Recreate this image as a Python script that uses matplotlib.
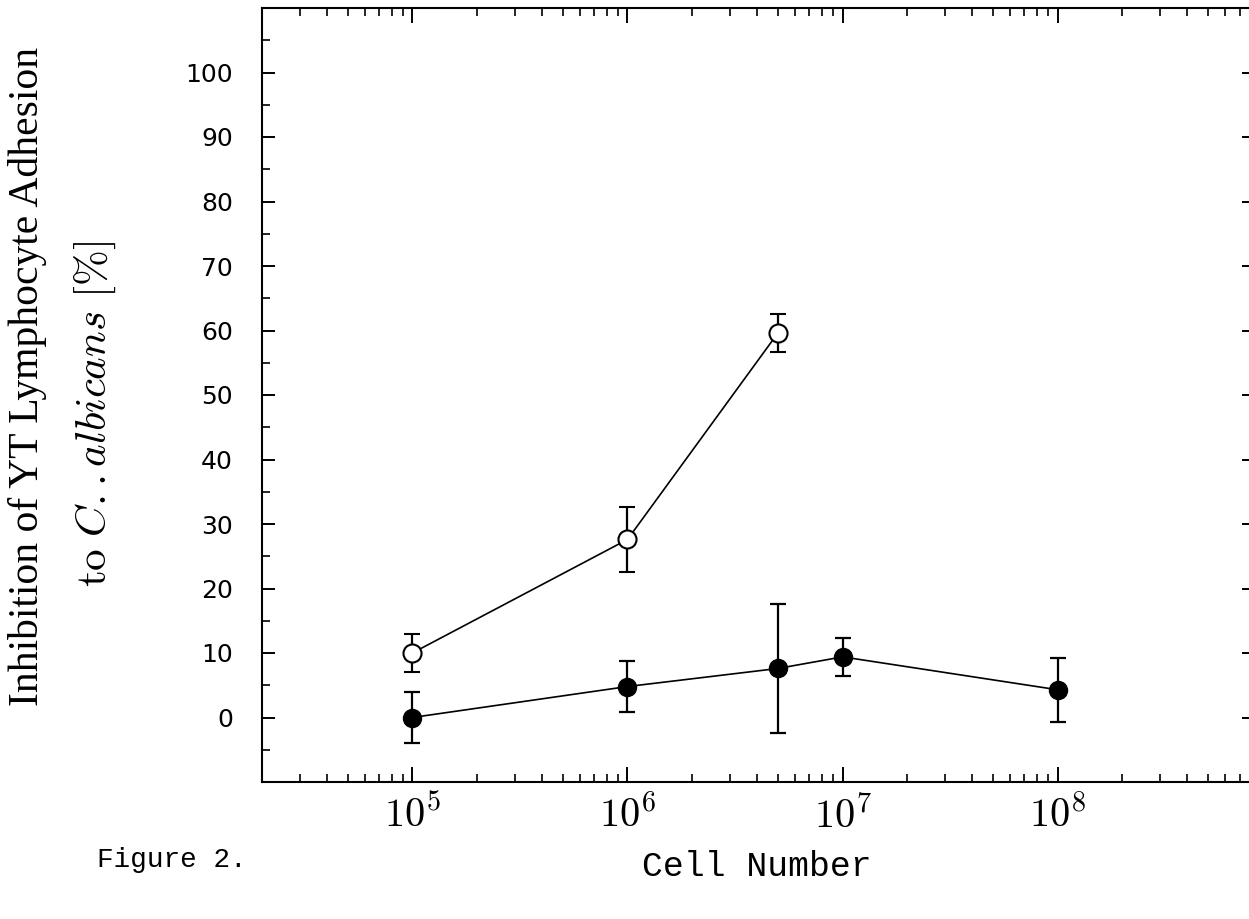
import math
import matplotlib
matplotlib.use("Agg")
import matplotlib.pyplot as plt
from matplotlib.ticker import FixedLocator, LogLocator, MultipleLocator, NullFormatter, FuncFormatter

plt.rcParams["mathtext.fontset"] = "cm"

# Cell numbers and inhibition (%) with error bars
open_x = [1e5, 1e6, 5e6]
open_y = [10.0, 27.6, 59.6]
open_err = [3.0, 5.0, 3.0]

filled_x = [1e5, 1e6, 5e6, 1e7, 1e8]
filled_y = [0.0, 4.8, 7.6, 9.4, 4.3]
filled_err = [4.0, 4.0, 10.0, 2.9, 5.0]

y_ticks = [0, 10, 20, 30, 40, 50, 60, 70, 80, 90, 100]
x_ticks = [1e5, 1e6, 1e7, 1e8]

fig = plt.figure(figsize=(12.49, 9.19), dpi=100)
ax = fig.add_axes([262 / 1249, 137 / 919, 990 / 1249, 774 / 919])

ax.errorbar(filled_x, filled_y, yerr=filled_err, fmt="-o", color="black",
            ecolor="black", elinewidth=1.6, capsize=6, capthick=1.6,
            lw=1.2, ms=13, mfc="black", mec="black", zorder=3)
ax.errorbar(open_x, open_y, yerr=open_err, fmt="-o", color="black",
            ecolor="black", elinewidth=1.6, capsize=6, capthick=1.6,
            lw=1.2, ms=13, mfc="white", mec="black", mew=1.5, zorder=4)

ax.set_xscale("log")
ax.set_xlim(2e4, 8e8)
ax.set_ylim(-10, 110)

for s in ax.spines.values():
    s.set_linewidth(1.5)

ax.xaxis.set_major_locator(FixedLocator(x_ticks))
ax.xaxis.set_minor_locator(LogLocator(base=10, subs=range(2, 10), numticks=20))
ax.xaxis.set_minor_formatter(NullFormatter())
ax.xaxis.set_major_formatter(FuncFormatter(lambda v, p: r"$10^{%d}$" % round(math.log10(v))))
ax.tick_params(axis="x", which="major", direction="in", length=11, width=1.4,
               top=True, bottom=True, labelsize=29, pad=10)
ax.tick_params(axis="x", which="minor", direction="in", length=5.5, width=1.2,
               top=True, bottom=True)

ax.yaxis.set_major_locator(FixedLocator(list(range(-10, 111, 10))))
ax.yaxis.set_minor_locator(MultipleLocator(5))
ax.yaxis.set_major_formatter(FuncFormatter(lambda v, p: "%d" % v if 0 <= v <= 100 else ""))
ax.tick_params(axis="y", which="major", direction="in", length=9.5, width=1.4,
               left=True, right=False, pad=21)
ax.tick_params(axis="y", which="minor", direction="in", length=5.5, width=1.2,
               left=True, right=False)
for lab in ax.get_yticklabels():
    lab.set_fontfamily("DejaVu Sans")
    lab.set_fontsize(18)

sec = ax.secondary_yaxis("right")
sec.yaxis.set_major_locator(FixedLocator(list(range(-10, 111, 10))))
sec.yaxis.set_minor_locator(MultipleLocator(5))
sec.tick_params(axis="y", which="major", direction="in", length=7.5, width=1.4, labelright=False)
sec.tick_params(axis="y", which="minor", direction="in", length=2, width=1.0)
sec.spines["right"].set_linewidth(1.5)

ax.set_xlabel("Cell Number", fontfamily="Liberation Mono", fontsize=25, labelpad=10)

fig.text(28 / 1249, 1 - 376 / 919, "Inhibition of YT Lymphocyte Adhesion",
         rotation=90, ha="center", va="center", fontfamily="Liberation Serif", fontsize=30)
fig.text(95 / 1249, 1 - 414 / 919, r"$\mathrm{to}\ C..albicans\ [\%]$",
         rotation=90, ha="center", va="center", fontsize=31)
fig.text(97 / 1249, 1 - 860 / 919, "Figure 2.", ha="left", va="center",
         fontfamily="Liberation Mono", fontsize=20)

fig.savefig("out.png", dpi=100)
